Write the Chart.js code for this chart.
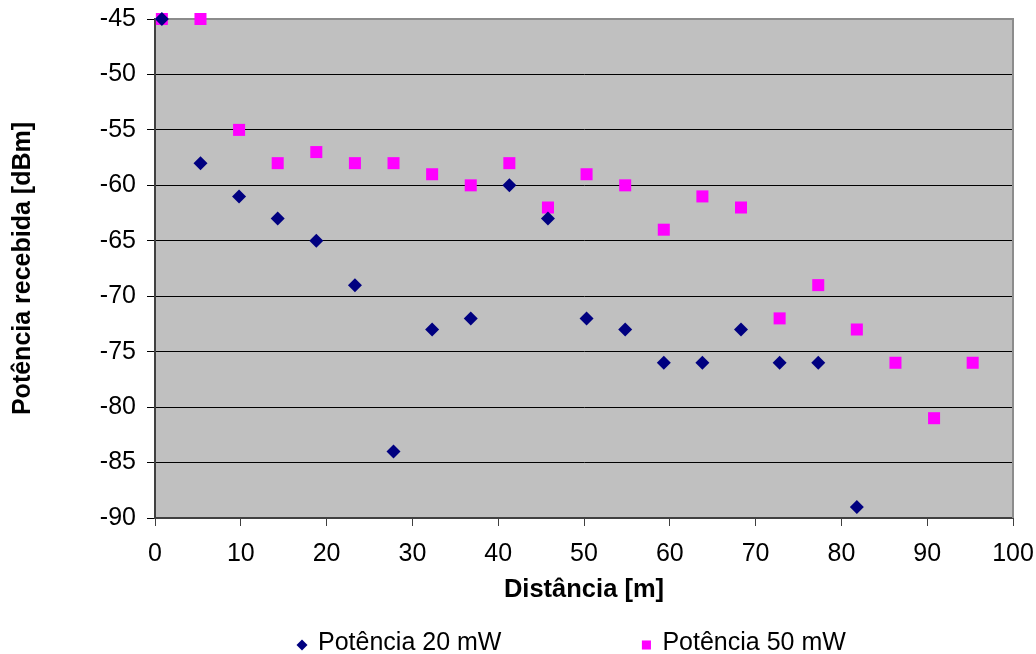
<!DOCTYPE html>
<html>
<head>
<meta charset="utf-8">
<script src="https://cdn.jsdelivr.net/npm/chart.js@4/dist/chart.umd.min.js"></script>
<style>
    html, body { margin: 0; padding: 0; background: #fff; }
    #wrap { width: 1036px; height: 654px; }
</style>
</head>
<body>
<div id="wrap"><canvas id="chartArea" width="1036" height="654"></canvas></div>
<script>
// distance [m] and received power [dBm] per series
const distancia20 = [0.8, 5.3, 9.8, 14.3, 18.8, 23.3, 27.8, 32.3, 36.8, 41.3, 45.8, 50.3, 54.8, 59.3, 63.8, 68.3, 72.8, 77.3, 81.8];
const potencia20 = [-45, -58, -61, -63, -65, -69, -84, -73, -72, -60, -63, -72, -73, -76, -76, -73, -76, -76, -89];
const distancia50 = [0.8, 5.3, 9.8, 14.3, 18.8, 23.3, 27.8, 32.3, 36.8, 41.3, 45.8, 50.3, 54.8, 59.3, 63.8, 68.3, 72.8, 77.3, 81.8, 86.3, 90.8, 95.3];
const potencia50 = [-45, -45, -55, -58, -57, -58, -58, -59, -60, -58, -62, -59, -60, -64, -61, -62, -72, -69, -73, -76, -81, -76];
const seriesLabels = ['Potência 20 mW', 'Potência 50 mW'];
const xTitle = 'Distância [m]';
const yTitle = 'Potência recebida [dBm]';

const FONT = "'Liberation Sans', Arial, sans-serif";

const toPoints = (xs, ys) => xs.map((x, i) => ({ x: x, y: ys[i] }));

// grey plot background
const plotBackground = {
    id: 'plotBackground',
    beforeDraw(chart) {
        const { ctx, chartArea: a } = chart;
        ctx.save();
        ctx.fillStyle = '#fff';
        ctx.fillRect(0, 0, chart.width, chart.height);
        ctx.fillStyle = '#c0c0c0';
        ctx.fillRect(a.left, a.top, a.right - a.left, a.bottom - a.top);
        ctx.restore();
    },
    beforeDatasetsDraw(chart) {
        // grey top and right frame
        const { ctx, chartArea: a } = chart;
        ctx.save();
        ctx.strokeStyle = '#8c8c8c';
        ctx.lineWidth = 2;
        ctx.beginPath();
        ctx.moveTo(a.left, a.top);
        ctx.lineTo(a.right, a.top);
        ctx.lineTo(a.right, a.bottom);
        ctx.stroke();
        ctx.restore();
    }
};

// legend spread out at the bottom like the Excel original
const bottomLegend = {
    id: 'bottomLegend',
    afterDraw(chart) {
        const ctx = chart.ctx;
        const startX = 296;
        const gap = 139;
        const baseY = 650;
        const markY = 645;
        ctx.save();
        ctx.font = '25px ' + FONT;
        ctx.textBaseline = 'alphabetic';
        ctx.textAlign = 'left';
        let x = startX;
        chart.data.datasets.forEach(ds => {
            const style = ds.pointStyle;
            const r = style === 'rect' ? 6.4 : 5.5;
            ctx.fillStyle = ds.backgroundColor;
            Chart.helpers.drawPoint(ctx, { pointStyle: style, radius: r, rotation: 0, borderWidth: 0 }, x + 6, markY);
            ctx.fillStyle = '#000';
            ctx.fillText(ds.label, x + 22, baseY);
            x += 22 + ctx.measureText(ds.label).width + gap;
        });
        ctx.restore();
    }
};

const ctx = document.getElementById('chartArea').getContext('2d');
new Chart(ctx, {
    type: 'scatter',
    data: {
        datasets: [
            {
                label: seriesLabels[0],
                data: toPoints(distancia20, potencia20),
                pointStyle: 'rectRot',
                pointRadius: 7,
                pointHoverRadius: 7,
                backgroundColor: '#000080',
                borderColor: '#000080',
                borderWidth: 0,
                clip: false
            },
            {
                label: seriesLabels[1],
                data: toPoints(distancia50, potencia50),
                pointStyle: 'rect',
                pointRadius: 8.5,
                pointHoverRadius: 8.5,
                backgroundColor: '#ff00ff',
                borderColor: '#ff00ff',
                borderWidth: 0,
                clip: false
            }
        ]
    },
    options: {
        responsive: false,
        animation: false,
        layout: { padding: { top: 19, right: 23, bottom: 0, left: 0 } },
        plugins: {
            legend: { display: false },
            tooltip: { enabled: false }
        },
        scales: {
            x: {
                type: 'linear',
                min: 0,
                max: 100,
                ticks: {
                    stepSize: 10,
                    color: '#000',
                    padding: 13,
                    maxRotation: 0,
                    font: { family: FONT, size: 25 }
                },
                grid: {
                    drawOnChartArea: false,
                    drawTicks: true,
                    tickLength: 8,
                    color: '#404040'
                },
                border: { color: '#404040', width: 2 },
                title: {
                    display: true,
                    text: xTitle,
                    color: '#000',
                    font: { family: FONT, size: 25.5, weight: 'bold' },
                    padding: { top: 0, bottom: 49 }
                },
                afterFit(scale) {
                    scale.height = 136;
                    scale.paddingLeft = 0;
                    scale.paddingRight = 0;
                }
            },
            y: {
                type: 'linear',
                min: -90,
                max: -45,
                ticks: {
                    stepSize: 5,
                    color: '#000',
                    padding: 11,
                    font: { family: FONT, size: 25 }
                },
                grid: {
                    color: '#000',
                    lineWidth: 1,
                    tickLength: 8
                },
                border: { color: '#404040', width: 2 },
                title: {
                    display: true,
                    text: yTitle,
                    color: '#000',
                    font: { family: FONT, size: 25, weight: 'bold' },
                    padding: { top: 8, bottom: 0 }
                },
                afterFit(scale) {
                    scale.width = 155;
                    scale.paddingTop = 0;
                    scale.paddingBottom = 0;
                }
            }
        }
    },
    plugins: [plotBackground, bottomLegend]
});
</script>
</body>
</html>
